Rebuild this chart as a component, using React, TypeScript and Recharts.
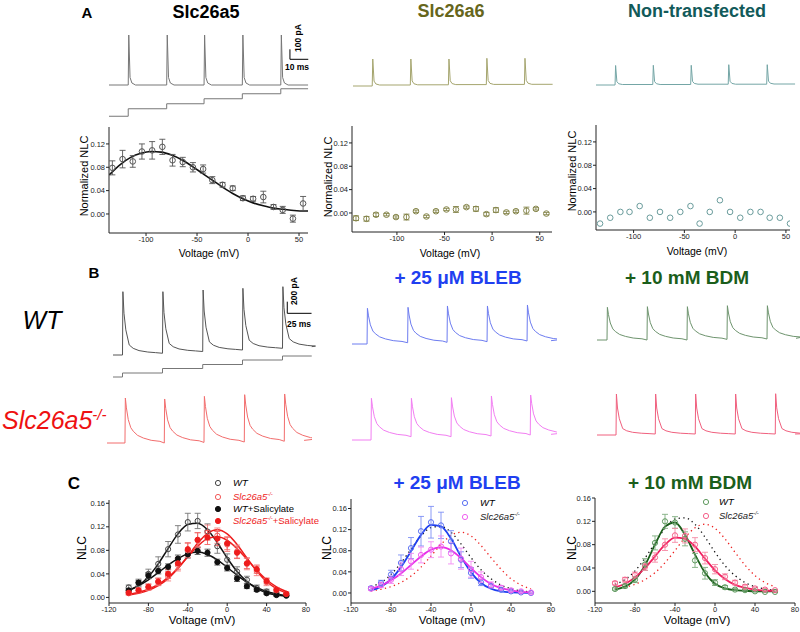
import React from 'react'
import { LineChart, Line, XAxis, YAxis, ErrorBar, ReferenceLine } from 'recharts'

const FONT = '"Liberation Sans", Arial, Helvetica, sans-serif'

// ---------- current traces: time (ms) / current (pA) ----------
// spike shapes: ms after onset -> fraction of peak above following baseline
const SPIKE_T = [0, 0.3, 1, 2, 4]
const SPIKE_F = [0, 1, 0.15, 0.04, 0]
const FAST_T = [0, 0.4, 1.5, 3.4, 6.9, 11, 17, 26, 34]
const FAST_F = [0, 1, 0.65, 0.38, 0.135, 0.08, 0.043, 0.02, 0.01]
const SLOW_T = [0, 0.4, 1.5, 3.4, 6, 8.6, 13, 19, 27, 36]
const SLOW_F = [0, 1, 0.78, 0.52, 0.34, 0.26, 0.17, 0.11, 0.06, 0.037]

// panel A traces
const A5_ON = [10.5, 31.5, 51.9, 72.8, 93.8]
const A5_PEAK = [500, 500, 500, 500, 500]
const A5_BASE = [0, 0, 0, 0, 0, 0]
const A6_ON = [10.5, 31.3, 52.1, 72.8, 93.6]
const A6_PEAK = [270, 270, 270, 277, 277]
const A6_BASE = [0, 10, 12, 14, 16, 17]
const ANT_ON = [10.4, 31.0, 51.7, 72.2, 93.2]
const ANT_PEAK = [195, 197, 197, 203, 203]
const ANT_BASE = [0, 5, 5, 8, 8, 10]
const A_STEPS = [-145, -115, -95, -75, -55, -35]

// panel B traces
const BWT_ON = [9.8, 51, 92.4, 133.4, 174.6]
const BWT_PEAK = [1089, 1089, 1118, 1147, 1175]
const BWT_BASE = [0, 30, 60, 86, 115, 143]
const BKO_ON = [18.5, 59, 99.9, 141.4, 182.6]
const BKO_PEAK = [774, 757, 802, 831, 843]
const BKO_BASE = [0, 0, 10, 17, 30, 45]
const BLWT_ON = [15.5, 57.3, 97.9, 139.1, 180.3]
const BLWT_PEAK = [614, 631, 654, 654, 671]
const BLWT_BASE = [0, 22, 29, 40, 52, 57]
const BLKO_ON = [19.6, 60.8, 102, 143.2, 183.6]
const BLKO_PEAK = [717, 717, 728, 757, 774]
const BLKO_BASE = [0, 57, 57, 69, 86, 98]
const BDWT_ON = [10.3, 51.5, 92.7, 133.9, 175.1]
const BDWT_PEAK = [562, 573, 573, 590, 590]
const BDWT_BASE = [0, 0, 0, 11, 17, 29]
const BDKO_ON = [19.6, 60, 101.2, 142.4, 183.6]
const BDKO_PEAK = [705, 705, 705, 705, 710]
const BDKO_BASE = [0, 17, 17, 17, 17, 17]
const B_STEPS = [-108, -92, -74, -58, -40, -24]

// ---------- panel A: normalized NLC ----------
const V_A = [-133, -123, -113, -104, -94, -84, -74, -64, -54, -44, -35, -25, -15, -5, 5, 15, 25, 34, 44, 54]
const V_A6 = [-143, -132, -122, -111, -101, -90, -80, -69, -59, -48, -38, -27, -17, -6, 4, 15, 25, 36, 46, 57]
const A5_NLC = [0.079, 0.094, 0.09, 0.107, 0.109, 0.115, 0.092, 0.089, 0.08, 0.077, 0.058, 0.05, 0.044, 0.027, 0.026, 0.029, 0.012, 0.007, -0.008, 0.018]
const A5_ERR = [0.012, 0.015, 0.01, 0.013, 0.015, 0.013, 0.01, 0.008, 0.008, 0.007, 0.006, 0.004, 0.004, 0.004, 0.004, 0.01, 0.004, 0.006, 0.006, 0.012]
const A5_FIT_V = [-136, -125, -115, -105, -95, -85, -75, -65, -55, -45, -35, -25, -15, -5, 5, 15, 25, 35, 45, 55, 59]
const A5_FIT = [0.067, 0.085, 0.097, 0.104, 0.107, 0.106, 0.101, 0.093, 0.082, 0.07, 0.058, 0.046, 0.035, 0.026, 0.019, 0.014, 0.01, 0.008, 0.006, 0.005, 0.005]
const A6_NLC = [-0.009, -0.01, -0.003, -0.003, -0.007, -0.007, 0.003, -0.006, 0.003, 0.006, 0.006, 0.01, 0.007, -0.002, 0.005, 0.001, 0.003, 0.004, 0.007, -0.001]
const A6_ERR = [0.004, 0.004, 0.003, 0.002, 0.002, 0.005, 0.002, 0.002, 0.002, 0.002, 0.005, 0.002, 0.004, 0.003, 0.004, 0.002, 0.002, 0.006, 0.002, 0.002]
const NT_NLC = [-0.02, -0.01, 0, 0, 0.01, -0.01, 0, -0.01, 0, 0.01, -0.02, 0, 0.02, 0, -0.01, 0, 0, -0.01, -0.01, -0.02]

// ---------- panel C: NLC ----------
const V_C = [-100, -90, -80, -70, -60, -50, -40, -30, -20, -10, 0, 10, 20, 30, 40, 50, 60]
const C_WT = [0.017, 0.025, 0.04, 0.057, 0.082, 0.107, 0.128, 0.13, 0.112, 0.087, 0.064, 0.044, 0.03, 0.016, 0.01, 0.006, 0.004]
const C_WT_E = [0.004, 0.006, 0.008, 0.012, 0.013, 0.015, 0.015, 0.013, 0.013, 0.012, 0.01, 0.008, 0.006, 0.005, 0.004, 0.003, 0.002]
const C_WT_FIT = [0.012, 0.02, 0.035, 0.057, 0.083, 0.108, 0.124, 0.126, 0.115, 0.093, 0.067, 0.044, 0.027, 0.015, 0.008, 0.004, 0.002]
const C_KO = [0.007, 0.012, 0.017, 0.026, 0.036, 0.055, 0.08, 0.097, 0.11, 0.105, 0.09, 0.078, 0.057, 0.045, 0.026, 0.012, 0.006]
const C_KO_E = [0.003, 0.004, 0.005, 0.006, 0.008, 0.01, 0.012, 0.013, 0.013, 0.013, 0.012, 0.011, 0.01, 0.008, 0.006, 0.004, 0.003]
const C_KO_FIT = [0.004, 0.007, 0.012, 0.02, 0.032, 0.049, 0.07, 0.092, 0.109, 0.115, 0.108, 0.09, 0.067, 0.045, 0.027, 0.015, 0.008]
const C_WS = [0.012, 0.025, 0.037, 0.045, 0.052, 0.066, 0.073, 0.079, 0.076, 0.06, 0.05, 0.032, 0.019, 0.013, 0.007, 0.004, 0.003]
const C_WS_E = [0.003, 0.004, 0.005, 0.005, 0.005, 0.006, 0.006, 0.006, 0.006, 0.005, 0.005, 0.005, 0.004, 0.003, 0.002, 0.002, 0.001]
const C_WS_FIT = [0.012, 0.02, 0.03, 0.042, 0.055, 0.066, 0.074, 0.077, 0.073, 0.064, 0.051, 0.038, 0.026, 0.017, 0.01, 0.006, 0.003]
const C_KS = [0.008, 0.012, 0.018, 0.027, 0.04, 0.058, 0.082, 0.098, 0.102, 0.1, 0.092, 0.076, 0.058, 0.048, 0.028, 0.013, 0.006]
const C_KS_E = [0.003, 0.004, 0.005, 0.006, 0.008, 0.01, 0.011, 0.012, 0.012, 0.012, 0.011, 0.01, 0.009, 0.007, 0.005, 0.004, 0.003]
const C_KS_FIT = [0.005, 0.009, 0.014, 0.022, 0.034, 0.05, 0.069, 0.087, 0.1, 0.103, 0.097, 0.083, 0.065, 0.046, 0.03, 0.018, 0.01]

const BL_WT = [0.009, 0.019, 0.035, 0.057, 0.085, 0.117, 0.134, 0.128, 0.098, 0.063, 0.038, 0.02, 0.013, 0.006, 0.003, 0.001, 0]
const BL_WT_E = [0.003, 0.005, 0.008, 0.015, 0.02, 0.028, 0.03, 0.025, 0.02, 0.015, 0.01, 0.006, 0.004, 0.003, 0.002, 0.001, 0.001]
const BL_WT_FIT = [0.005, 0.012, 0.026, 0.049, 0.079, 0.11, 0.129, 0.126, 0.103, 0.069, 0.039, 0.019, 0.008, 0.003, 0.001, 0.0005, 0]
const BL_KO = [0.008, 0.015, 0.025, 0.045, 0.06, 0.072, 0.082, 0.088, 0.075, 0.065, 0.045, 0.03, 0.015, 0.01, 0.005, 0.003, 0.001]
const BL_KO_E = [0.003, 0.005, 0.007, 0.012, 0.015, 0.015, 0.015, 0.02, 0.02, 0.02, 0.015, 0.01, 0.006, 0.004, 0.003, 0.002, 0.001]
const BL_KO_FIT = [0.008, 0.014, 0.024, 0.037, 0.053, 0.069, 0.082, 0.087, 0.081, 0.066, 0.047, 0.03, 0.017, 0.009, 0.005, 0.002, 0.001]

const BD_WT = [0.004, 0.009, 0.02, 0.046, 0.083, 0.12, 0.118, 0.09, 0.053, 0.031, 0.015, 0.007, 0.003, 0.002, 0, -0.001, -0.001]
const BD_WT_E = [0.002, 0.003, 0.005, 0.01, 0.012, 0.012, 0.01, 0.012, 0.012, 0.01, 0.005, 0.003, 0.002, 0.001, 0.001, 0.001, 0.001]
const BD_WT_FIT = [0.003, 0.008, 0.02, 0.045, 0.08, 0.111, 0.118, 0.097, 0.063, 0.032, 0.013, 0.005, 0.002, 0.001, 0, 0, 0]
const BD_KO = [0.014, 0.02, 0.028, 0.042, 0.058, 0.08, 0.096, 0.095, 0.08, 0.057, 0.038, 0.025, 0.015, 0.008, 0.005, 0.003, 0.002]
const BD_KO_E = [0.003, 0.004, 0.005, 0.006, 0.008, 0.01, 0.012, 0.012, 0.012, 0.01, 0.008, 0.005, 0.004, 0.003, 0.002, 0.002, 0.001]
const BD_KO_FIT = [0.007, 0.013, 0.024, 0.04, 0.06, 0.08, 0.092, 0.09, 0.077, 0.056, 0.036, 0.021, 0.011, 0.006, 0.003, 0.001, 0.001]

const A_XTICKS = [-100, -50, 0, 50]
const A_YTICKS = [0, 0.04, 0.08, 0.12]
const C_XTICKS = [-120, -80, -40, 0, 40, 80]
const C_YTICKS = [0, 0.04, 0.08, 0.12, 0.16]

function buildTrace(on: number[], peak: number[], base: number[], end: number, st: number[], sf: number[]) {
  const pts = [{ t: 0, i: base[0] }]
  on.forEach((t0, k) => {
    const b = base[k + 1]
    st.forEach((dt, j) => {
      if (j === 0) pts.push({ t: t0, i: base[k] })
      else pts.push({ t: t0 + dt, i: b + sf[j] * (peak[k] - b) })
    })
  })
  pts.push({ t: end, i: base[base.length - 1] })
  return pts
}

function buildSteps(on: number[], levels: number[], end: number) {
  return [{ t: 0, i: levels[0] }, ...on.map((t, k) => ({ t, i: levels[k + 1] })), { t: end, i: levels[levels.length - 1] }]
}

const pts = (v: number[], y: number[], e?: number[]) => v.map((x, k) => ({ v: x, y: y[k], e: e ? e[k] : 0 }))

function Trace({ left, top, width, height, xMax, yDomain, data, color, step, bar }: any) {
  return (
    <div style={{ position: 'absolute', left, top }}>
      <LineChart width={width} height={height} data={data} margin={{ top: 0, right: 0, bottom: 0, left: 0 }}>
        <XAxis hide type="number" dataKey="t" domain={[0, xMax]} allowDataOverflow />
        <YAxis hide type="number" domain={yDomain} allowDataOverflow />
        <Line type={step ? 'stepAfter' : 'linear'} dataKey="i" stroke={color} strokeWidth={1} dot={false} activeDot={false} isAnimationActive={false} />
        {bar && (
          <ReferenceLine segment={[{ x: bar.t, y: bar.i + bar.di }, { x: bar.t, y: bar.i }]} stroke="#000" strokeWidth={1} />
        )}
        {bar && (
          <ReferenceLine segment={[{ x: bar.t, y: bar.i }, { x: bar.t + bar.dt, y: bar.i }]} stroke="#000" strokeWidth={1} />
        )}
      </LineChart>
    </div>
  )
}

function NlcChart({ left, top, width, height, xDomain, xTicks, yDomain, yTicks, children }: any) {
  const YW = 26
  const XH = 14
  const MT = 6
  const MR = 12
  const tick = { fontSize: 7.5, fill: '#222', fontFamily: FONT }
  return (
    <div style={{ position: 'absolute', left: left - YW, top: top - MT }}>
      <LineChart width={YW + width + MR} height={MT + height + XH} margin={{ top: MT, right: MR, bottom: 0, left: 0 }}>
        <XAxis type="number" dataKey="v" domain={xDomain} ticks={xTicks} interval={0} allowDataOverflow
          height={XH} tickSize={3} tickMargin={1} tick={tick} stroke="#222" />
        <YAxis type="number" domain={yDomain} ticks={yTicks} interval={0} allowDataOverflow width={YW}
          tickSize={3} tickMargin={1} tick={tick} stroke="#222" tickFormatter={(v: number) => v.toFixed(2)} />
        {children}
      </LineChart>
    </div>
  )
}

function marks(data: any[], color: string, filled: boolean, errColor?: string, r = 2.6) {
  return (
    <Line data={data} dataKey="y" stroke="none" isAnimationActive={false} activeDot={false} legendType="none"
      dot={{ r, fill: filled ? color : 'none', stroke: color, strokeWidth: 1 }}>
      {errColor && <ErrorBar dataKey="e" width={3} stroke={errColor} strokeWidth={0.9} direction="y" />}
    </Line>
  )
}

function fit(data: any[], color: string, width = 1.5, dash?: string) {
  return (
    <Line data={data} dataKey="y" type="monotone" stroke={color} strokeWidth={width} strokeDasharray={dash}
      dot={false} activeDot={false} isAnimationActive={false} legendType="none" />
  )
}

function T({ x, y, children, size = 10, weight = 400, color = '#000', italic = false, rotate = 0, anchor = 'middle' }: any) {
  return (
    <div style={{
      position: 'absolute', left: x, top: y, whiteSpace: 'nowrap', lineHeight: 1, fontSize: size, fontWeight: weight,
      color, fontStyle: italic ? 'italic' : 'normal',
      transform: `translate(${anchor === 'middle' ? '-50%' : '0'},-50%) rotate(${rotate}deg)`,
    }}>{children}</div>
  )
}

function Key({ mx, tx, y, color, filled, children }: any) {
  return (
    <>
      <svg style={{ position: 'absolute', left: mx - 4, top: y - 4 }} width={8} height={8}>
        <circle cx={4} cy={4} r={2.6} fill={filled ? color : 'none'} stroke={color} strokeWidth={1} />
      </svg>
      <T x={tx} y={y} size={9.5} anchor="start">{children}</T>
    </>
  )
}

const KO = (color: string) => (
  <span style={{ fontStyle: 'italic', color }}>Slc26a5<sup style={{ fontSize: '0.6em' }}>-/-</sup></span>
)

const DOTS = '1.3 3.4'

export default function App() {
  const AY = [-400, 600]
  const BY = [-172, 1290]
  return (
    <div style={{ position: 'absolute', left: 0, top: 0, width: 800, height: 632, background: '#fff', fontFamily: FONT, overflow: 'hidden' }}>
      {/* ---------- A ---------- */}
      <T x={87} y={12} size={15} weight={700}>A</T>
      <T x={206} y={12} size={18} weight={700}>Slc26a5</T>
      <T x={451} y={11} size={18} weight={700} color="#66661c">Slc26a6</T>
      <T x={697} y={11} size={18} weight={700} color="#125a5a">Non-transfected</T>

      <Trace left={109} top={25} width={201} height={100} xMax={109.75} yDomain={AY} color="#777"
        data={buildTrace(A5_ON, A5_PEAK, A5_BASE, 108.7, SPIKE_T, SPIKE_F)} bar={{ t: 98.8, i: 257, di: 100, dt: 10 }} />
      <Trace left={109} top={80} width={201} height={40} xMax={109.75} yDomain={[-160, 0]} color="#777" step
        data={buildSteps(A5_ON, A_STEPS, 108.7)} />
      <T x={298} y={38} size={8.5} weight={700} rotate={-90}>100 pA</T>
      <T x={297} y={67} size={8.5} weight={700}>10 ms</T>

      <Trace left={353} top={26} width={201} height={100} xMax={109.75} yDomain={AY} color="#a5a56e"
        data={buildTrace(A6_ON, A6_PEAK, A6_BASE, 109, SPIKE_T, SPIKE_F)} />
      <Trace left={596} top={25} width={201} height={100} xMax={109.75} yDomain={AY} color="#74a6a6"
        data={buildTrace(ANT_ON, ANT_PEAK, ANT_BASE, 108.7, SPIKE_T, SPIKE_F)} />

      <NlcChart left={109} top={127} width={199} height={106} xDomain={[-136.3, 58.8]} xTicks={A_XTICKS}
        yDomain={[-0.0326, 0.149]} yTicks={A_YTICKS}>
        {fit(pts(A5_FIT_V, A5_FIT), '#111', 1.6)}
        {marks(pts(V_A, A5_NLC, A5_ERR), '#555', false, '#555', 2.8)}
      </NlcChart>
      <NlcChart left={352} top={126} width={200} height={106} xDomain={[-147.2, 62.9]} xTicks={A_XTICKS}
        yDomain={[-0.0326, 0.149]} yTicks={A_YTICKS}>
        {marks(pts(V_A6, A6_NLC, A6_ERR), '#85854a', false, '#85854a', 2.8)}
      </NlcChart>
      <NlcChart left={596} top={125} width={194} height={105} xDomain={[-137, 54]} xTicks={A_XTICKS}
        yDomain={[-0.031, 0.149]} yTicks={A_YTICKS}>
        {marks(pts(V_A, NT_NLC), '#6a9c9c', false, undefined, 2.8)}
      </NlcChart>
      <T x={84} y={176} size={11} rotate={-90}>Normalized NLC</T>
      <T x={328} y={177} size={11} rotate={-90}>Normalized NLC</T>
      <T x={572} y={171} size={11} rotate={-90}>Normalized NLC</T>
      <T x={209} y={253} size={10.5}>Voltage (mV)</T>
      <T x={450} y={253} size={10.5}>Voltage (mV)</T>
      <T x={697} y={251} size={10.5}>Voltage (mV)</T>

      {/* ---------- B ---------- */}
      <T x={94} y={272} size={15} weight={700}>B</T>
      <T x={458} y={277} size={19} weight={700} color="#1f40f0">+ 25 μM BLEB</T>
      <T x={687} y={277} size={19} weight={700} color="#1b5e1b">+ 10 mM BDM</T>
      <T x={42} y={320} size={25} italic>WT</T>
      <T x={2} y={420} size={25} anchor="start">{KO('#ee1111')}</T>

      <Trace left={113} top={280} width={205} height={85} xMax={211.15} yDomain={BY} color="#555"
        data={buildTrace(BWT_ON, BWT_PEAK, BWT_BASE, 204.7, FAST_T, FAST_F)} bar={{ t: 179.5, i: 717, di: 200, dt: 25 }} />
      <Trace left={113} top={350} width={205} height={30} xMax={211.15} yDomain={[-120, 0]} color="#777" step
        data={buildSteps(BWT_ON, B_STEPS, 204.7)} />
      <T x={294} y={291} size={8.5} weight={700} rotate={-90}>200 pA</T>
      <T x={299} y={323.5} size={8.5} weight={700}>25 ms</T>
      <Trace left={107} top={368} width={205} height={85} xMax={211.15} yDomain={BY} color="#f26d6d"
        data={buildTrace(BKO_ON, BKO_PEAK, BKO_BASE, 203, SLOW_T, SLOW_F)} />

      <Trace left={352} top={269} width={205} height={85} xMax={211.15} yDomain={BY} color="#6d7cf0"
        data={buildTrace(BLWT_ON, BLWT_PEAK, BLWT_BASE, 205, SLOW_T, SLOW_F)} />
      <Trace left={352} top={365} width={205} height={85} xMax={211.15} yDomain={BY} color="#f27ef2"
        data={buildTrace(BLKO_ON, BLKO_PEAK, BLKO_BASE, 205, SLOW_T, SLOW_F)} />
      <Trace left={597} top={265} width={205} height={85} xMax={211.15} yDomain={BY} color="#6e946e"
        data={buildTrace(BDWT_ON, BDWT_PEAK, BDWT_BASE, 205, SLOW_T, SLOW_F)} />
      <Trace left={597} top={360} width={205} height={85} xMax={211.15} yDomain={BY} color="#f0607e"
        data={buildTrace(BDKO_ON, BDKO_PEAK, BDKO_BASE, 204, FAST_T, FAST_F)} />

      {/* ---------- C ---------- */}
      <T x={74} y={483} size={17} weight={700}>C</T>
      <T x={457} y={482} size={19} weight={700} color="#1f40f0">+ 25 μM BLEB</T>
      <T x={690} y={482} size={19} weight={700} color="#1b5e1b">+ 10 mM BDM</T>

      <NlcChart left={109} top={500} width={197} height={103} xDomain={[-120, 80]} xTicks={C_XTICKS}
        yDomain={[-0.0095, 0.1656]} yTicks={C_YTICKS}>
        {fit(pts(V_C, C_WT_FIT), '#111')}
        {fit(pts(V_C, C_WS_FIT), '#111')}
        {fit(pts(V_C, C_KO_FIT), '#ee1c1c')}
        {fit(pts(V_C, C_KS_FIT), '#ee1c1c')}
        {marks(pts(V_C, C_WT, C_WT_E), '#444', false, '#777')}
        {marks(pts(V_C, C_WS, C_WS_E), '#111', true, '#555')}
        {marks(pts(V_C, C_KO, C_KO_E), '#f25a5a', false, '#f58080')}
        {marks(pts(V_C, C_KS, C_KS_E), '#ee1c1c', true, '#f26060')}
      </NlcChart>
      <Key mx={218} tx={233} y={483} color="#444"><i>WT</i></Key>
      <Key mx={218} tx={233} y={497} color="#f25a5a">{KO('#ee1c1c')}</Key>
      <Key mx={218} tx={233} y={509} color="#111" filled><i>WT</i>+Salicylate</Key>
      <Key mx={218} tx={233} y={521} color="#ee1c1c" filled>{KO('#ee1c1c')}<span style={{ color: '#ee1c1c' }}>+Salicylate</span></Key>

      <NlcChart left={351} top={499} width={200} height={104} xDomain={[-120, 80]} xTicks={C_XTICKS}
        yDomain={[-0.019, 0.178]} yTicks={C_YTICKS}>
        {fit(pts(V_C, C_WT_FIT), '#111', 1.3, DOTS)}
        {fit(pts(V_C, C_KO_FIT), '#ee2020', 1.3, DOTS)}
        {fit(pts(V_C, BL_WT_FIT), '#1f40f0', 1.8)}
        {fit(pts(V_C, BL_KO_FIT), '#e830e8', 1.8)}
        {marks(pts(V_C, BL_WT, BL_WT_E), '#5a70f2', false, '#7d8ff5')}
        {marks(pts(V_C, BL_KO, BL_KO_E), '#f060f0', false, '#f38cf3')}
      </NlcChart>
      <Key mx={465} tx={480} y={503} color="#5a70f2"><i>WT</i></Key>
      <Key mx={465} tx={480} y={517} color="#f060f0">{KO('#222')}</Key>

      <NlcChart left={595} top={498} width={200} height={105} xDomain={[-120, 80]} xTicks={C_XTICKS}
        yDomain={[-0.02, 0.16]} yTicks={C_YTICKS}>
        {fit(pts(V_C, C_WT_FIT), '#111', 1.3, DOTS)}
        {fit(pts(V_C, C_KO_FIT), '#ee2020', 1.3, DOTS)}
        {fit(pts(V_C, BD_WT_FIT), '#1b5e1b', 1.8)}
        {fit(pts(V_C, BD_KO_FIT), '#f02060', 1.8)}
        {marks(pts(V_C, BD_WT, BD_WT_E), '#5f9a5f', false, '#7fae7f')}
        {marks(pts(V_C, BD_KO, BD_KO_E), '#f5608a', false, '#f58aa5')}
      </NlcChart>
      <Key mx={706} tx={719} y={502} color="#5f9a5f"><i>WT</i></Key>
      <Key mx={706} tx={719} y={516} color="#f5608a">{KO('#222')}</Key>

      <T x={82} y={548} size={12} rotate={-90}>NLC</T>
      <T x={327} y={548} size={12} rotate={-90}>NLC</T>
      <T x={572} y={548} size={12} rotate={-90}>NLC</T>
      <T x={202} y={621} size={11.5}>Voltage (mV)</T>
      <T x={452} y={621} size={11.5}>Voltage (mV)</T>
      <T x={697} y={621} size={11.5}>Voltage (mV)</T>
    </div>
  )
}
